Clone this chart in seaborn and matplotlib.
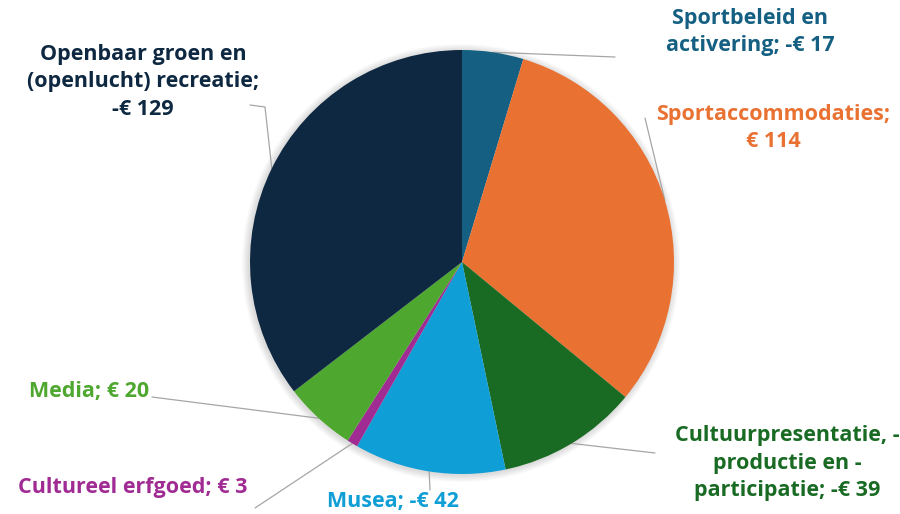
import matplotlib.pyplot as plt
import pandas as pd
import seaborn as sns
import numpy as np

# Gegevens van de grafiek (bedragen per taakveld)
categorieen = ['Sportbeleid en\nactivering', 'Sportaccommodaties;\n', 'Cultuurpresentatie, -\nproductie en -\nparticipatie',
               'Musea', 'Cultureel erfgoed', 'Media', 'Openbaar groen en\n(openlucht) recreatie;\n']
bedragen = [-17, 114, -39, -42, 3, 20, -129]
kleuren = ['#156082', '#e97132', '#196b24', '#0f9ed5', '#a02b93', '#4ea72e', '#0e2841']

# Posities van de labels en het eind van de verbindingslijn (in pixels, y van boven)
label_pos = [(750, 32), (773, 128), (787, 463), (393, 502), (133, 488), (89, 392), (143, 82)]
lijn_eind = [[(615, 57)], [(645, 118)], [(655, 453)], [(430, 490)], [(255, 508)], [(152, 397)],
             [(250, 105), (265, 107)]]

HOOGTE = 514


def px(x, y):  # Zet een pixelpositie (y van boven) om naar data-coordinaten
    return x, HOOGTE - y


def maak_label(naam, bedrag):
    """ Stelt de tekst van een label samen """
    teken = '-' if bedrag < 0 else ''
    if naam.endswith('\n'):
        return '{}{}€ {}'.format(naam, teken, abs(bedrag))
    return '{}; {}€ {}'.format(naam, teken, abs(bedrag))


def teken_grafiek():
    sns.set_theme(style='white')
    plt.rcParams['font.family'] = ['Open Sans', 'DejaVu Sans']

    df = pd.DataFrame({'naam': categorieen, 'bedrag': bedragen, 'kleur': kleuren})
    df['grootte'] = df['bedrag'].abs()

    fig = plt.figure(figsize=(9, 5.14), dpi=100)
    ax = fig.add_axes([0, 0, 1, 1])

    midden = px(462, 262)
    straal = 212
    # Zachte schaduw rond de taart
    for k in range(1, 8):
        ax.add_patch(plt.Circle((midden[0] - 1, midden[1] - 1), straal + k, color='black',
                                alpha=0.018, lw=0, zorder=0.1))
    wedges, _ = ax.pie(df['grootte'], colors=df['kleur'], startangle=90, counterclock=False,
                       center=midden, radius=straal, frame=True,
                       wedgeprops=dict(linewidth=0))
    ax.set_xlim(0, 900)
    ax.set_ylim(0, HOOGTE)
    ax.set_aspect('equal')
    ax.axis('off')

    for i, w in enumerate(wedges):
        hoek = np.deg2rad((w.theta1 + w.theta2) / 2)
        rand = (midden[0] + straal * np.cos(hoek), midden[1] + straal * np.sin(hoek))
        punten = [rand] + [px(*p) for p in reversed(lijn_eind[i])]
        xs, ys = zip(*punten)
        ax.plot(xs, ys, color='#a6a6a6', lw=0.9, zorder=0.5)
        ax.text(*px(*label_pos[i]), maak_label(df['naam'][i], df['bedrag'][i]),
                ha='center', va='center', color=df['kleur'][i], fontsize=15.5,
                fontweight='bold', linespacing=1.42)

    fig.savefig('out.png', dpi=100)


if __name__ == "__main__":  # Voert het programma uit
    teken_grafiek()
